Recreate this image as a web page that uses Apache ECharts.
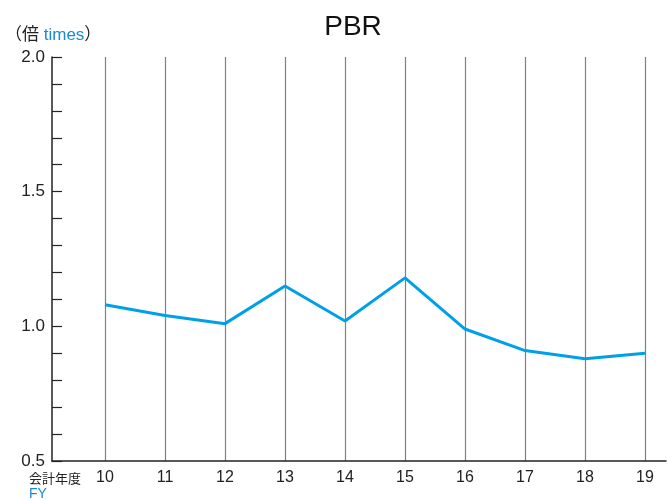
<!DOCTYPE html>
<html>
<head>
<meta charset="utf-8">
<script src="https://cdn.jsdelivr.net/npm/echarts@6/dist/echarts.min.js"></script>
<style>html,body{margin:0;padding:0;background:#fff}#c{width:667px;height:500px}</style>
</head>
<body>
<div id="c"></div>
<script>
var years = [10, 11, 12, 13, 14, 15, 16, 17, 18, 19];
var pbr = [1.08, 1.04, 1.01, 1.15, 1.02, 1.18, 0.99, 0.91, 0.88, 0.90];
var yLabels = [0.5, 1.0, 1.5, 2.0];

var FONT = '"Liberation Sans", "Noto Sans CJK JP", sans-serif';
var BLUE = '#1a8ad4';
var chart = echarts.init(document.getElementById('c'));
chart.setOption({
  animation: false,
  textStyle: { fontFamily: FONT },
  title: [
    { text: 'PBR', left: 348, textAlign: 'center', top: 8,
      textStyle: { fontSize: 28, fontWeight: 'normal', color: '#111', fontFamily: FONT } },
    { text: '{a|（倍 }{b|times}{a|）}', left: 0, top: 22,
      textStyle: { fontWeight: 'normal', rich: {
        a: { fontSize: 17, fontWeight: 'normal', color: '#222', fontFamily: FONT },
        b: { fontSize: 17, fontWeight: 'normal', color: BLUE, fontFamily: FONT } } } },
    { text: '会計年度', left: 24, top: 468,
      textStyle: { fontSize: 13, fontWeight: 'normal', color: '#222', fontFamily: FONT } },
    { text: 'FY', left: 24, top: 482,
      textStyle: { fontSize: 14, fontWeight: 'normal', color: BLUE, fontFamily: FONT } }
  ],
  grid: { left: 52, top: 57, right: 1, bottom: 39, containLabel: false },
  xAxis: {
    type: 'value',
    min: 9.1167, max: 19.35,
    axisLine: { show: true, lineStyle: { color: '#222', width: 1.5 } },
    axisTick: { show: false, customValues: years },
    axisLabel: { customValues: years, fontSize: 16, color: '#222', margin: 9, fontFamily: FONT },
    splitLine: { show: true, lineStyle: { color: '#808080', width: 1.2 } }
  },
  yAxis: {
    type: 'value',
    min: 0.5, max: 2.0, interval: 0.1,
    axisLine: { show: true, lineStyle: { color: '#222', width: 1.5 } },
    axisTick: { show: true, inside: true, length: 10, lineStyle: { color: '#222', width: 1.2 } },
    axisLabel: { customValues: yLabels, fontSize: 17, color: '#222', margin: 7, fontFamily: FONT,
      formatter: function (v) { return v.toFixed(1); } },
    splitLine: { show: false }
  },
  series: [{
    type: 'line',
    data: years.map(function (y, i) { return [y, pbr[i]]; }),
    symbol: 'none',
    lineStyle: { color: '#00a0e9', width: 3 },
    z: 5
  }]
});
</script>
</body>
</html>
